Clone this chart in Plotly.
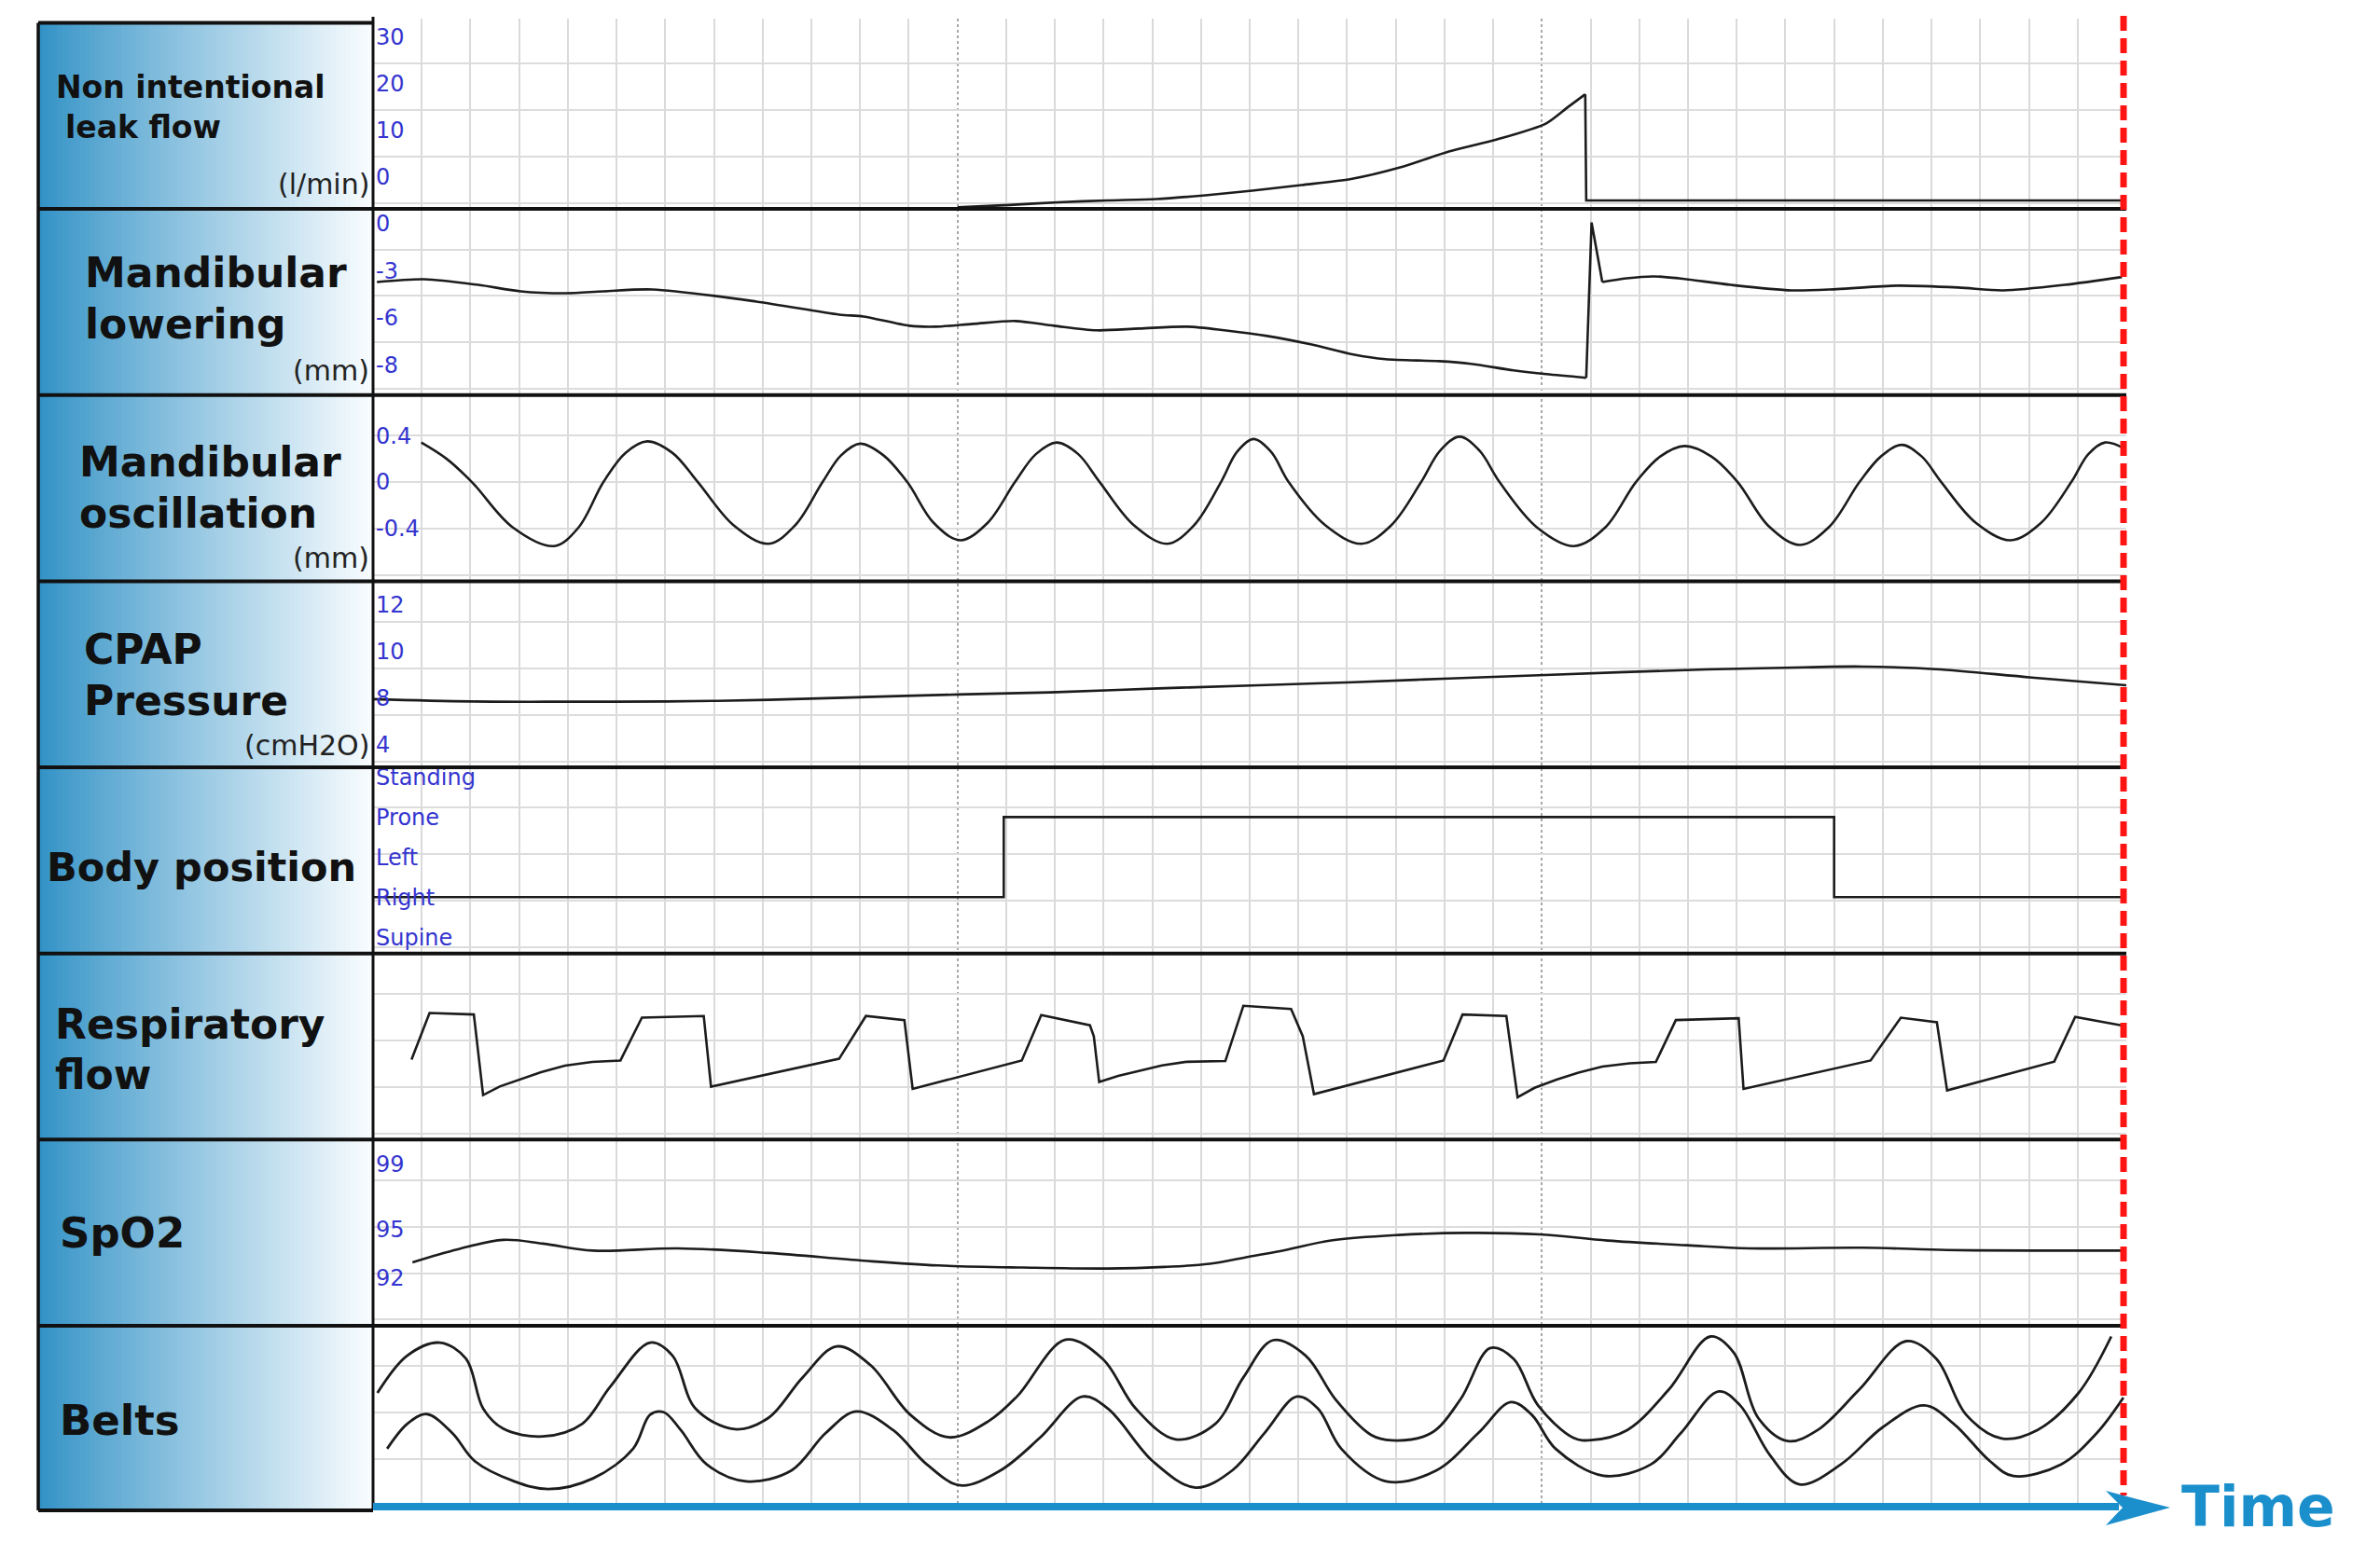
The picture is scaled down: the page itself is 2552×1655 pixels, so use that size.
import plotly.graph_objects as go

# target picture size; the page body keeps its default 8 px margin
W, H = 2552, 1655
OFF = 8
FIG_W, FIG_H = W - OFF, H - OFF
PLOT_L, PLOT_R = 400, 2280
BOX_L = 41
ROW_TOP = 21.5
ROW_H = 200
N_CELLS = 36

# ---- values; x is in grid cells (0..36) ----
leak_x = [12.0, 13.07, 14.06, 15.08, 16.09, 17.09, 18.05, 19.06, 20.08, 21.09, 22.09,
          23.08, 24.08, 24.54, 24.89, 24.91, 35.95]
leak_y = [-1.5, -1.0, -0.4, 0.0, 0.3, 1.1, 2.1, 3.3, 4.6, 7.1, 10.5, 13.1, 16.5, 20.1,
          22.8, 0.0, 0.0]
leak_ticks = [0, 10, 20, 30]

lowering_x = [0.08, 1.05, 2.16, 3.03, 3.96, 4.73, 5.74, 7.87, 9.57, 10.07, 11.01, 11.55,
              12.32, 13.19, 13.98, 14.85, 15.73, 16.72, 17.48, 18.36, 19.25, 20.13, 20.79,
              21.89, 22.54, 23.42, 24.09, 24.91, 25.02, 25.24, 25.74, 26.29, 26.81, 27.88,
              29.13, 30.05, 31.30, 32.55, 33.47, 34.73, 35.91]
lowering_y = [-3.73, -3.55, -3.91, -4.32, -4.44, -4.32, -4.20, -4.97, -5.80, -5.92, -6.51,
              -6.57, -6.39, -6.21, -6.51, -6.80, -6.69, -6.57, -6.80, -7.16, -7.69, -8.34,
              -8.64, -8.76, -8.93, -9.35, -9.59, -9.82, 0.06, -3.73, -3.49, -3.37, -3.49,
              -3.91, -4.26, -4.18, -3.96, -4.08, -4.26, -3.91, -3.41]
lowering_tick_pos = [0, -3, -6, -9]
lowering_tick_text = ["0", "-3", "-6", "-8"]

osc_x = [0.99, 1.51, 2.03, 2.87, 3.72, 4.22, 4.73, 5.18, 5.63, 6.15, 6.67, 7.40, 8.12,
         8.67, 9.23, 9.61, 10.00, 10.48, 10.97, 11.51, 12.06, 12.62, 13.18, 13.61, 14.04,
         14.48, 14.92, 15.62, 16.31, 16.86, 17.41, 17.74, 18.08, 18.44, 18.80, 19.55,
         20.30, 20.91, 21.52, 21.91, 22.31, 22.72, 23.13, 23.90, 24.66, 25.30, 25.93,
         26.43, 26.93, 27.48, 28.02, 28.66, 29.30, 29.91, 30.52, 30.96, 31.39, 31.80,
         32.20, 32.91, 33.62, 34.25, 34.87, 35.22, 35.56, 36.0]
osc_y = [0.34, 0.20, 0, -0.39, -0.55, -0.39, 0, 0.25, 0.35, 0.25, 0, -0.37, -0.53,
         -0.37, 0, 0.23, 0.33, 0.23, 0, -0.35, -0.50, -0.35, 0, 0.24, 0.34, 0.24, 0,
         -0.37, -0.53, -0.37, 0, 0.26, 0.37, 0.26, 0, -0.37, -0.53, -0.37, 0, 0.27, 0.39,
         0.27, 0, -0.39, -0.55, -0.39, 0, 0.22, 0.31, 0.22, 0, -0.38, -0.54, -0.38, 0,
         0.22, 0.32, 0.22, 0, -0.35, -0.50, -0.35, 0, 0.24, 0.34, 0.28]
osc_ticks = [0.4, 0, -0.4]

cpap_x = [0, 2.03, 4.06, 6.03, 8.12, 10.09, 12.01, 14.04, 16.12, 18.19, 20.13, 22.10,
          24.07, 27.10, 29.41, 30.58, 32.08, 34.06, 36.0]
cpap_y = [7.95, 7.85, 7.84, 7.85, 7.92, 8.04, 8.15, 8.25, 8.41, 8.55, 8.68, 8.84, 8.99,
          9.21, 9.32, 9.35, 9.24, 8.88, 8.55]
cpap_tick_pos = [12, 10, 8, 6]
cpap_tick_text = ["12", "10", "8", "4"]

body_levels = ["Supine", "Right", "Left", "Prone", "Standing"]
body_x = [0, 12.95, 30.0, 35.92]
body_y = ["Right", "Prone", "Right", "Right"]

resp_x = [0.79, 1.16, 2.07, 2.26, 2.60, 3.02, 3.45, 3.94, 4.50, 5.08, 5.52, 6.79, 6.94,
          9.57, 10.12, 10.91, 11.08, 13.32, 13.72, 14.72, 14.80, 14.91, 15.30, 15.78,
          16.20, 16.71, 17.50, 17.87, 18.85, 19.09, 19.32, 21.98, 22.37, 23.27, 23.50,
          23.85, 24.30, 24.75, 25.24, 25.80, 26.34, 26.75, 28.04, 28.14, 30.75, 31.37,
          32.11, 32.32, 34.52, 34.95, 36.0]
resp_y = [4.30, 6.80, 6.72, 2.39, 2.85, 3.22, 3.62, 3.97, 4.17, 4.25, 6.55, 6.64, 2.84,
          4.34, 6.64, 6.42, 2.72, 4.25, 6.69, 6.14, 5.55, 3.09, 3.42, 3.72, 3.98, 4.18,
          4.22, 7.19, 7.02, 5.55, 2.44, 4.25, 6.72, 6.64, 2.27, 2.78, 3.22, 3.60, 3.92,
          4.10, 4.17, 6.42, 6.52, 2.72, 4.25, 6.55, 6.30, 2.64, 4.19, 6.59, 6.09]

spo2_x = [0.81, 1.74, 2.67, 3.49, 4.52, 6.26, 8.12, 10.09, 11.60, 13.35, 15.09, 16.25,
          17.18, 18.00, 18.74, 19.67, 21.06, 22.44, 23.96, 25.35, 26.98, 28.26, 30.58,
          32.32, 34.06, 35.92]
spo2_y = [92.95, 93.75, 94.33, 94.10, 93.67, 93.81, 93.53, 93.05, 92.76, 92.63, 92.57,
          92.67, 92.86, 93.31, 93.71, 94.29, 94.63, 94.76, 94.67, 94.29, 94.00, 93.81,
          93.85, 93.71, 93.67, 93.67]
spo2_ticks = [99, 95, 92]

belt_upper_x = [0.09, 0.70, 1.37, 1.91, 2.26, 2.67, 3.49, 4.29, 4.87, 5.69, 6.15, 6.62,
                7.43, 8.12, 8.82, 9.52, 10.21, 11.03, 11.83, 12.65, 13.23, 14.22, 14.98,
                15.66, 16.48, 17.29, 17.87, 18.48, 19.15, 19.76, 20.49, 20.92, 21.72, 22.33,
                22.94, 23.42, 23.92, 24.65, 25.01, 25.75, 26.60, 27.46, 27.94, 28.44, 29.05,
                29.66, 30.51, 31.48, 32.10, 32.71, 33.44, 34.17, 35.02, 35.69]
belt_upper_y = [6.39, 8.39, 9.09, 8.22, 5.55, 4.47, 4.05, 4.72, 6.72, 9.09, 8.39, 5.55,
                4.44, 5.05, 7.22, 8.89, 7.89, 5.22, 4.00, 4.89, 6.22, 9.25, 8.22, 5.55,
                3.89, 4.72, 7.22, 9.22, 8.39, 6.05, 4.14, 3.84, 4.22, 6.05, 8.80, 8.22,
                5.72, 3.97, 3.85, 4.39, 6.55, 9.42, 8.55, 5.05, 3.80, 4.39, 6.55, 9.17,
                8.22, 5.22, 3.94, 4.39, 6.39, 9.42]
belt_lower_x = [0.29, 0.70, 1.10, 1.63, 2.09, 2.90, 3.60, 4.52, 5.34, 5.69, 5.97, 6.32,
                6.85, 7.66, 8.59, 9.29, 9.92, 10.68, 11.37, 12.06, 12.88, 13.69, 14.57,
                15.09, 16.01, 16.89, 17.64, 18.30, 18.97, 19.40, 19.88, 20.80, 21.83, 22.69,
                23.36, 23.79, 24.28, 25.26, 26.24, 26.85, 27.63, 28.07, 28.68, 29.29, 30.14,
                31.00, 31.85, 32.46, 33.20, 33.68, 34.66, 35.39, 35.94]
belt_lower_y = [3.39, 4.72, 5.25, 4.22, 2.72, 1.64, 1.22, 1.80, 3.39, 5.22, 5.35, 4.39,
                2.55, 1.64, 2.22, 4.22, 5.39, 4.39, 2.55, 1.42, 2.22, 3.97, 6.19, 5.55,
                2.72, 1.30, 2.22, 4.22, 6.19, 5.55, 3.39, 1.64, 2.22, 4.22, 5.89, 5.22,
                3.39, 1.94, 2.55, 4.22, 6.47, 5.72, 3.05, 1.47, 2.55, 4.55, 5.72, 4.72,
                2.72, 1.92, 2.55, 4.22, 6.14]

# row captions: (text, x px, y px, font size)
caption_lines = [
    ("Non intentional", 58, 91, 33), ("leak flow", 68, 133.5, 33),
    ("Mandibular", 89, 290, 44), ("lowering", 89, 345, 44),
    ("Mandibular", 83, 493, 44), ("oscillation", 83, 548.5, 44),
    ("CPAP", 88, 695, 44), ("Pressure", 88, 750, 44),
    ("Body position", 48, 929, 43),
    ("Respiratory", 57, 1097, 44), ("flow", 57, 1152, 44),
    ("SpO2", 62, 1321.6, 45),
    ("Belts", 62, 1523, 45),
]
unit_lines = [("(l/min)", 195), ("(mm)", 395.5), ("(mm)", 597), ("(cmH2O)", 797.5)]


def px_x(x):
    return (x - OFF) / FIG_W


def px_y(y):
    return 1 - (y - OFF) / FIG_H


INK = "#1c1c1c"
TICK_FONT = {"family": "DejaVu Sans", "size": 24, "color": "#3535cf"}


def line(shape="linear", smoothing=None, width=2.6):
    style = {"color": INK, "width": width, "shape": shape}
    if smoothing is not None:
        style["smoothing"] = smoothing
    return style


# one dict per row: y-axis settings + traces
panels = [
    {"yaxis": {"range": [-1.84, 38.16], "tickvals": leak_ticks,
               "ticklabelposition": "inside top", "ticklabelshift": -9},
     "traces": [go.Scatter(x=leak_x[:15], y=leak_y[:15], line=line("spline", 0.7)),
                go.Scatter(x=leak_x[14:], y=leak_y[14:], line=line())]},
    {"yaxis": {"range": [-10.92, 0.92], "tickvals": lowering_tick_pos, "ticktext": lowering_tick_text},
     "traces": [go.Scatter(x=lowering_x[:28], y=lowering_y[:28], line=line("spline", 0.8)),
                go.Scatter(x=lowering_x[27:30], y=lowering_y[27:30], line=line()),
                go.Scatter(x=lowering_x[29:], y=lowering_y[29:], line=line("spline", 0.8))]},
    {"yaxis": {"range": [-0.852, 0.748], "tickvals": osc_ticks, "ticktext": ["0.4", "0", "-0.4"]},
     "traces": [go.Scatter(x=osc_x, y=osc_y, line=line("spline", 1.0))]},
    {"yaxis": {"range": [5.02, 13.02], "tickvals": cpap_tick_pos, "ticktext": cpap_tick_text},
     "traces": [go.Scatter(x=cpap_x, y=cpap_y, line=line("spline", 1.0))]},
    {"yaxis": {"type": "category", "categoryorder": "array", "categoryarray": body_levels,
               "range": [-0.407, 4.244], "tickvals": body_levels},
     "traces": [go.Scatter(x=body_x, y=body_y, line=line("hv"))]},
    {"yaxis": {"range": [0, 10], "showticklabels": False},
     "traces": [go.Scatter(x=resp_x, y=resp_y, line=line())]},
    {"yaxis": {"range": [89.06, 100.49], "tickvals": spo2_ticks},
     "traces": [go.Scatter(x=spo2_x, y=spo2_y, line=line("spline", 1.0))]},
    {"yaxis": {"range": [0, 10], "showticklabels": False},
     "traces": [go.Scatter(x=belt_upper_x, y=belt_upper_y, line=line("spline", 1.0, 2.8)),
                go.Scatter(x=belt_lower_x, y=belt_lower_y, line=line("spline", 1.0, 2.8))]},
]

fig = go.Figure()
x_domain = [px_x(PLOT_L), px_x(PLOT_R)]

# background grid on x/y (drawn first so it sits under every panel)
fig.add_trace(go.Scatter(x=[None], y=[None], xaxis="x", yaxis="y", hoverinfo="skip"))
layout_axes = {
    "xaxis": dict(domain=x_domain, range=[0, N_CELLS], anchor="y", tick0=0, dtick=12,
                  showgrid=True, gridcolor="#a8a8a8", griddash="dot", gridwidth=1.8,
                  minor=dict(tick0=0, dtick=1, showgrid=True, gridcolor="#dadada",
                             gridwidth=1.5, griddash="solid"),
                  showticklabels=False, zeroline=False, showline=False, ticks=""),
    "yaxis": dict(domain=[px_y(1618), px_y(17)], range=[1618, 17], anchor="x", tick0=15, dtick=50,
                  showgrid=True, gridcolor="#dcdcdc", gridwidth=2.4,
                  showticklabels=False, zeroline=False, showline=False, ticks=""),
}

for k, panel in enumerate(panels):
    n = k + 2
    top = ROW_TOP + k * ROW_H
    for tr in panel["traces"]:
        tr.update(xaxis=f"x{n}", yaxis=f"y{n}", mode="lines", hoverinfo="skip")
        fig.add_trace(tr)
    layout_axes[f"xaxis{n}"] = dict(domain=x_domain, range=[0, N_CELLS], anchor=f"y{n}",
                                     visible=False)
    yax = dict(domain=[px_y(top + ROW_H), px_y(top)], anchor=f"x{n}", showgrid=False,
               zeroline=False, showline=False, ticks="", ticklabelposition="inside",
               ticklabeloverflow="allow", tickfont=TICK_FONT)
    yax.update(panel["yaxis"])
    layout_axes[f"yaxis{n}"] = yax

fig.update_layout(**layout_axes)

# ---- decoration: caption column, separators, time arrow ----
shapes = []
n_strips = 72
c0, c1 = (50, 146, 198), (248, 252, 254)
strip_w = (PLOT_L - BOX_L) / n_strips
for i in range(n_strips):
    t = (i / (n_strips - 1)) ** 0.9
    r, g, b = (round(a + (bb - a) * t) for a, bb in zip(c0, c1))
    x0 = BOX_L + i * strip_w
    shapes.append(dict(type="rect", xref="paper", yref="paper", layer="below",
                       x0=px_x(x0), x1=px_x(x0 + strip_w + 0.8),
                       y0=px_y(1620), y1=px_y(ROW_TOP),
                       fillcolor=f"rgb({r},{g},{b})", line_width=0))


def hline(y, x0, x1, color="#111111", width=4):
    return dict(type="line", xref="paper", yref="paper", x0=px_x(x0), x1=px_x(x1),
                y0=px_y(y), y1=px_y(y), line=dict(color=color, width=width))


def vline(x, y0, y1, color="#111111", width=3.5, dash=None):
    return dict(type="line", xref="paper", yref="paper", x0=px_x(x), x1=px_x(x),
                y0=px_y(y0), y1=px_y(y1), line=dict(color=color, width=width, dash=dash))


shapes.append(hline(ROW_TOP, BOX_L, PLOT_L))
shapes.append(hline(1620, BOX_L, PLOT_L))
for k in range(1, 8):
    shapes.append(hline(ROW_TOP + k * ROW_H, BOX_L, PLOT_R))
shapes.append(vline(BOX_L, ROW_TOP, 1620))
shapes.append(vline(PLOT_L, 15, 1620, width=3))
shapes.append(vline(2277, 14, 1604, color="#ff1414", width=7, dash="16px,8px"))
shapes.append(hline(1616, PLOT_L, 2272, color="#1a8fcb", width=8))
arrow = [(2327, 1617), (2258, 1599), (2276, 1617), (2258, 1636)]
path = "M " + " L ".join(f"{px_x(x):.5f},{px_y(y):.5f}" for x, y in arrow) + " Z"
shapes.append(dict(type="path", xref="paper", yref="paper", path=path,
                   fillcolor="#1a8fcb", line_width=0))

annotations = []
for text, x, y, size in caption_lines:
    annotations.append(dict(text=text, xref="paper", yref="paper", x=px_x(x), y=px_y(y),
                            xanchor="left", yanchor="middle", showarrow=False,
                            font=dict(family="DejaVu Sans", size=size, color="#111111",
                                      weight="bold")))
for text, y in unit_lines:
    annotations.append(dict(text=text, xref="paper", yref="paper", x=px_x(398), y=px_y(y),
                            xanchor="right", yanchor="middle", showarrow=False,
                            font=dict(family="DejaVu Sans", size=30, color="#222222")))
annotations.append(dict(text="Time", xref="paper", yref="paper", x=px_x(2337), y=px_y(1616),
                        xanchor="left", yanchor="middle", showarrow=False,
                        font=dict(family="DejaVu Sans", size=60, color="#1a8fcb",
                                  weight="bold")))

fig.update_layout(
    width=FIG_W,
    height=FIG_H,
    margin=dict(l=0, r=0, t=0, b=0),
    paper_bgcolor="white",
    plot_bgcolor="rgba(0,0,0,0)",
    showlegend=False,
    shapes=shapes,
    annotations=annotations,
)

fig.write_html("out.html", config={"displayModeBar": False})
